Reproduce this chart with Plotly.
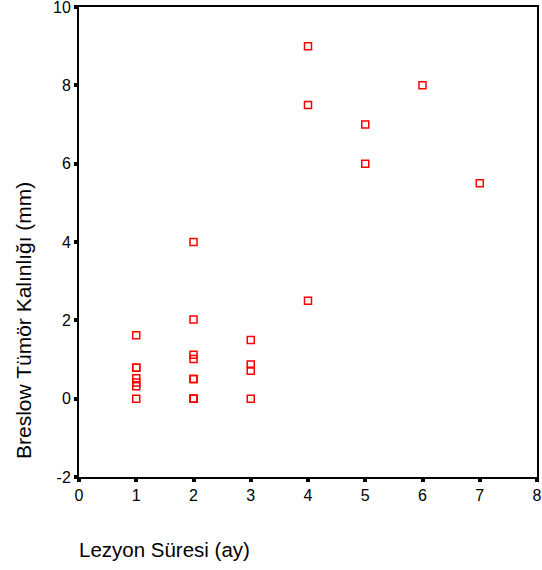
import plotly.graph_objects as go

lezyon_suresi = [1, 1, 1, 1, 1, 1, 1,
                 2, 2, 2, 2, 2, 2, 2, 2, 2,
                 3, 3, 3, 3,
                 4, 4, 4,
                 5, 5,
                 6,
                 7]
breslow = [1.62, 0.79, 0.79, 0.52, 0.41, 0.32, 0.0,
           4.0, 2.02, 1.12, 1.01, 0.5, 0.5, 0.0, 0.0, 0.0,
           1.5, 0.87, 0.71, 0.0,
           9.0, 7.5, 2.5,
           7.0, 6.0,
           8.0,
           5.5]

x_ticks = [0, 1, 2, 3, 4, 5, 6, 7, 8]
y_ticks = [-2, 0, 2, 4, 6, 8, 10]

FONT = "Liberation Sans, Arial, sans-serif"

fig = go.Figure(go.Scatter(
    x=lezyon_suresi, y=breslow, mode="markers",
    marker=dict(symbol="square-open", size=7, color="#FF0000",
                line=dict(width=1.5, color="#FF0000")),
    showlegend=False, hoverinfo="x+y",
))

axis_common = dict(showgrid=False, zeroline=False, showline=True, linecolor="black",
                   linewidth=2, mirror=True, ticks="outside", ticklen=3, tickwidth=4,
                   tickcolor="black", automargin=False, ticklabeloverflow="allow",
                   tickfont=dict(family=FONT, size=16, color="black"))

fig.update_xaxes(range=[0, 8], tickvals=x_ticks, ticktext=[str(v) for v in x_ticks], **axis_common)
fig.update_yaxes(range=[-2, 10], tickvals=y_ticks, ticktext=[str(v) for v in y_ticks], **axis_common)

fig.update_layout(
    width=542, height=570,
    margin=dict(l=79, r=5, t=7, b=93, autoexpand=False),
    plot_bgcolor="white", paper_bgcolor="white",
    font=dict(family=FONT, color="black"),
    annotations=[
        dict(text="Lezyon Süresi (ay)", xref="paper", yref="paper", x=-0.005, y=-0.155,
             xanchor="left", yanchor="middle", showarrow=False,
             font=dict(family=FONT, size=20.5, color="black")),
        dict(text="Breslow Tümör Kalınlığı (mm)", xref="paper", yref="paper", x=-0.12,
             y=0.332, xanchor="center", yanchor="middle", textangle=-90, showarrow=False,
             font=dict(family=FONT, size=21, color="black")),
    ],
)

fig.write_html("out.html", config={"displayModeBar": False},
               post_script="document.body.style.margin='0';")
